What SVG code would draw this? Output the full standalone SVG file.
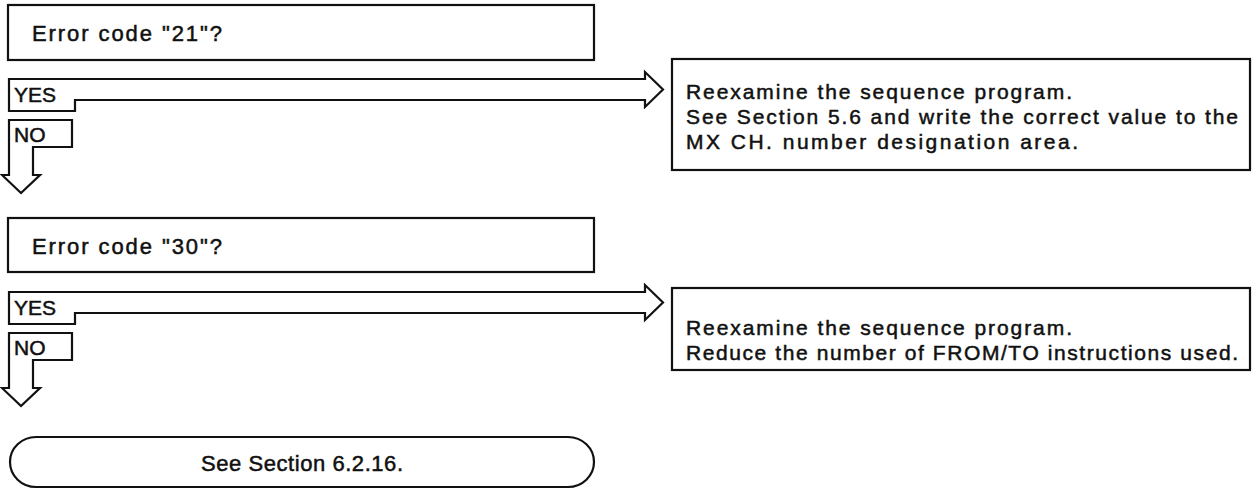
<svg xmlns="http://www.w3.org/2000/svg" width="1256" height="490" viewBox="0 0 1256 490">
<style>
.box{fill:#fff;stroke:#111;stroke-width:2.2}
.arr{fill:#fff;stroke:#111;stroke-width:2.2;stroke-linejoin:miter}
text{font-family:"Liberation Sans",Arial,sans-serif;font-size:22px;fill:#111;stroke:#111;stroke-width:0.5}
.body{font-size:21px}
.lbl{font-size:21px}
</style>
<rect width="1256" height="490" fill="#fff"/>
<g id="q1">
<rect class="box" x="8" y="5" width="586" height="55"/>
<text x="32" y="41" textLength="190" lengthAdjust="spacing">Error code "21"?</text>
</g>
<g id="q2">
<rect class="box" x="8" y="218" width="586" height="54"/>
<text x="32" y="254" textLength="190" lengthAdjust="spacing">Error code "30"?</text>
</g>
<g id="r1">
<rect class="box" x="672" y="59" width="578" height="111"/>
<text class="body" x="686" y="99" textLength="386" lengthAdjust="spacing">Reexamine the sequence program.</text>
<text class="body" x="686" y="124" textLength="552" lengthAdjust="spacing">See Section 5.6 and write the correct value to the</text>
<text class="body" x="686" y="149" textLength="392" lengthAdjust="spacing">MX CH. number designation area.</text>
</g>
<g id="r2">
<rect class="box" x="672" y="288" width="578" height="82"/>
<text class="body" x="686" y="335" textLength="386" lengthAdjust="spacing">Reexamine the sequence program.</text>
<text class="body" x="686" y="360" textLength="552" lengthAdjust="spacing">Reduce the number of FROM/TO instructions used.</text>
</g>
<g id="end">
<rect class="box" x="10" y="437" width="584" height="50" rx="26" ry="25"/>
<text x="302" y="471" text-anchor="middle" textLength="202" lengthAdjust="spacing">See Section 6.2.16.</text>
</g>
<g id="connectors">
<path class="arr" d="M9,111 V79 H645 V72 L663,89.5 L645,107 V100 H75 V111 Z"/>
<text class="lbl" x="14" y="102">YES</text>
<path class="arr" d="M9,120 H72 V147 H33 V175 H40 L21,193 L2,175 H9 Z"/>
<text class="lbl" x="14" y="142">NO</text>
<path class="arr" d="M9,324 V292 H645 V285 L663,302.5 L645,320 V313 H75 V324 Z"/>
<text class="lbl" x="14" y="315">YES</text>
<path class="arr" d="M9,333 H72 V360 H33 V388 H40 L21,406 L2,388 H9 Z"/>
<text class="lbl" x="14" y="355">NO</text>
</g>
</svg>
